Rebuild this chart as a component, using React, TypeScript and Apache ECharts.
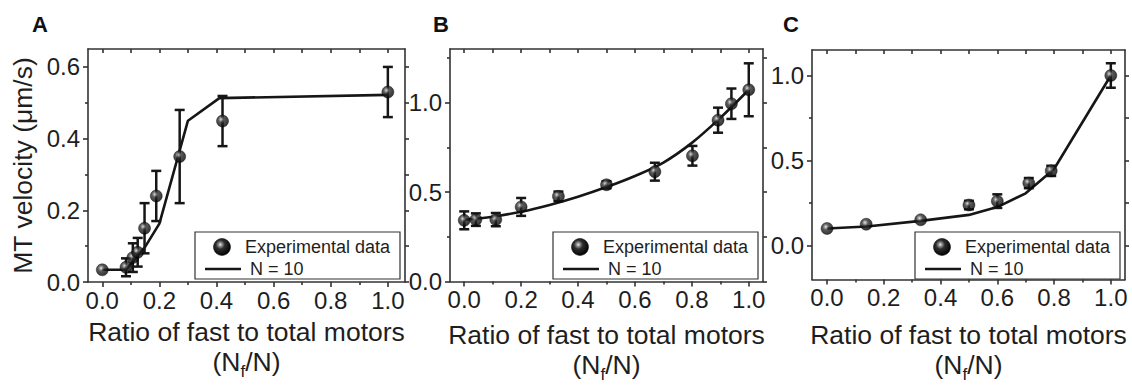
import React, { useEffect, useRef } from "react";
import * as echarts from "echarts";

// ---------- data ----------
const xMajor = [0, 0.2, 0.4, 0.6, 0.8, 1.0];
const xMinor = [0.1, 0.3, 0.5, 0.7, 0.9];

// Panel A
const aX = [0, 0.083, 0.107, 0.124, 0.148, 0.189, 0.271, 0.421, 1.0];
const aY = [0.034, 0.041, 0.068, 0.083, 0.15, 0.24, 0.35, 0.449, 0.53];
const aErr = [0, 0.025, 0.04, 0.04, 0.07, 0.07, 0.13, 0.07, 0.07];
const aFitX = [0, 0.083, 0.15, 0.2, 0.3, 0.41, 1.0];
const aFitY = [0.034, 0.034, 0.098, 0.163, 0.45, 0.513, 0.522];
const aYMajor = [0, 0.2, 0.4, 0.6];
const aYMinor = [0.1, 0.3, 0.5];

// Panel B
const bX = [0, 0.041, 0.111, 0.2, 0.331, 0.5, 0.67, 0.802, 0.892, 0.939, 1.0];
const bY = [0.342, 0.346, 0.346, 0.417, 0.476, 0.541, 0.614, 0.703, 0.902, 0.994, 1.072];
const bErr = [0.05, 0.035, 0.037, 0.05, 0.027, 0.02, 0.05, 0.055, 0.07, 0.085, 0.148];
const bFitX = [0, 0.1, 0.2, 0.3, 0.4, 0.5, 0.6, 0.7, 0.8, 0.9, 1.0];
const bFitY = [0.345, 0.362, 0.39, 0.428, 0.474, 0.528, 0.59, 0.665, 0.775, 0.915, 1.072];
const bYMajor = [0, 0.5, 1.0];
const bYMinor = [0.25, 0.75, 1.25];

// Panel C
const cX = [0, 0.138, 0.33, 0.5, 0.6, 0.711, 0.79, 1.0];
const cY = [0.1, 0.125, 0.151, 0.238, 0.261, 0.367, 0.439, 1.0];
const cErr = [0, 0, 0, 0.025, 0.04, 0.03, 0.03, 0.072];
const cFitX = [0, 0.14, 0.33, 0.5, 0.6, 0.7, 0.8, 1.0];
const cFitY = [0.1, 0.112, 0.145, 0.18, 0.226, 0.307, 0.45, 1.0];
const cYMajor = [0, 0.5, 1.0];
const cYMinor = [0.25, 0.75];

const panelLetters = ["A", "B", "C"];
const legendLabels = ["Experimental data", "N = 10"];
const xTitle = "Ratio of fast to total motors";
const yTitle = "MT velocity (\u03bcm/s)";

// ---------- style ----------
const FONT = "'Liberation Sans', Arial, Helvetica, sans-serif";
const INK = "#161616";
const FRAME = "#333";
const TXT = "#1e1e1e";

const sphere = () => ({
  type: "radial",
  x: 0.4,
  y: 0.36,
  r: 0.62,
  colorStops: [
    { offset: 0, color: "#eeeeee" },
    { offset: 0.15, color: "#9a9a9a" },
    { offset: 0.42, color: "#2e2e2e" },
    { offset: 1, color: "#050505" },
  ],
});

type Panel = {
  left: number; top: number; width: number; height: number;
  xMin: number; xMax: number; yMin: number; yMax: number;
  yMajor: number[]; yMinor: number[];
  nameGap: number; yName?: string;
  px: number[]; py: number[]; pe: number[]; fx: number[]; fy: number[];
  smooth: boolean;
};

const panels: Panel[] = [
  { left: 88, top: 49, width: 317, height: 233, xMin: -0.05, xMax: 1.06, yMin: 0, yMax: 0.65,
    yMajor: aYMajor, yMinor: aYMinor, nameGap: 34, yName: yTitle,
    px: aX, py: aY, pe: aErr, fx: aFitX, fy: aFitY, smooth: false },
  { left: 450, top: 49, width: 313, height: 233, xMin: -0.05, xMax: 1.05, yMin: 0, yMax: 1.3,
    yMajor: bYMajor, yMinor: bYMinor, nameGap: 38,
    px: bX, py: bY, pe: bErr, fx: bFitX, fy: bFitY, smooth: true },
  { left: 812, top: 50, width: 313, height: 233, xMin: -0.053, xMax: 1.05, yMin: -0.2, yMax: 1.15,
    yMajor: cYMajor, yMinor: cYMinor, nameGap: 40,
    px: cX, py: cY, pe: cErr, fx: cFitX, fy: cFitY, smooth: false },
];

const lineStyle = { color: FRAME, width: 1.6 };

function buildOption() {
  const grid: any[] = [];
  const xAxis: any[] = [];
  const yAxis: any[] = [];
  const series: any[] = [];
  const graphic: any[] = [];

  panels.forEach((p, gi) => {
    grid.push({ left: p.left, top: p.top, width: p.width, height: p.height, containLabel: false });
    const xBase = { gridIndex: gi, type: "value", min: p.xMin, max: p.xMax, splitLine: { show: false } };
    const yBase = { gridIndex: gi, type: "value", min: p.yMin, max: p.yMax, splitLine: { show: false } };
    xAxis.push({
      ...xBase, position: "bottom",
      axisLine: { show: true, onZero: false, lineStyle },
      axisTick: { show: true, inside: false, length: 5, customValues: xMajor, lineStyle },
      axisLabel: { show: true, customValues: xMajor, formatter: (v: number) => v.toFixed(1), margin: 6,
        fontSize: 24, color: TXT, fontFamily: FONT },
      name: xTitle + "\n{n|(N}{s|f}{n|/N)}", nameLocation: "middle", nameGap: p.nameGap,
      nameTextStyle: { fontSize: 26.5, color: TXT, fontFamily: FONT, lineHeight: 30,
        rich: {
          n: { fontSize: 26.5, color: TXT, fontFamily: FONT, lineHeight: 30 },
          s: { fontSize: 17, color: TXT, fontFamily: FONT, padding: [20, 0, 0, 0] },
        } },
    });
    xAxis.push({
      ...xBase, position: "bottom",
      axisLine: { show: false, onZero: false },
      axisTick: { show: true, inside: false, length: 3, customValues: xMinor, lineStyle },
      axisLabel: { show: false },
    });
    xAxis.push({
      ...xBase, position: "top",
      axisLine: { show: true, onZero: false, lineStyle },
      axisTick: { show: true, inside: true, length: 4, customValues: [...xMajor, ...xMinor], lineStyle },
      axisLabel: { show: false },
    });
    yAxis.push({
      ...yBase, position: "left",
      axisLine: { show: true, onZero: false, lineStyle },
      axisTick: { show: true, inside: false, length: 5, customValues: p.yMajor, lineStyle },
      axisLabel: { show: true, customValues: p.yMajor, formatter: (v: number) => v.toFixed(1), margin: 8,
        fontSize: 24, color: TXT, fontFamily: FONT },
      ...(p.yName ? { name: p.yName, nameLocation: "middle", nameGap: 52,
        nameTextStyle: { fontSize: 26.5, color: TXT, fontFamily: FONT } } : {}),
    });
    yAxis.push({
      ...yBase, position: "left",
      axisLine: { show: false, onZero: false },
      axisTick: { show: true, inside: false, length: 3, customValues: p.yMinor, lineStyle },
      axisLabel: { show: false },
    });
    yAxis.push({
      ...yBase, position: "right",
      axisLine: { show: true, onZero: false, lineStyle },
      axisTick: { show: true, inside: false, length: 4, customValues: [...p.yMajor, ...p.yMinor], lineStyle },
      axisLabel: { show: false },
    });

    const xi = gi * 3;
    const yi = gi * 3;
    series.push({
      type: "line", xAxisIndex: xi, yAxisIndex: yi, smooth: p.smooth ? 0.35 : false,
      showSymbol: false, symbol: "none",
      lineStyle: { color: INK, width: 2.6 },
      data: p.fx.map((x, i) => [x, p.fy[i]]),
      z: 2,
    });
    series.push({
      type: "custom", xAxisIndex: xi, yAxisIndex: yi,
      data: p.px.map((x, i) => [x, p.py[i], p.pe[i]]),
      encode: { x: 0, y: 1 },
      renderItem: (params: any, api: any) => {
        const x = api.value(0), y = api.value(1), e = api.value(2);
        if (!e) return { type: "group", children: [] };
        const t = api.coord([x, y + e]);
        const b = api.coord([x, y - e]);
        const hw = 5;
        const style = { stroke: INK, lineWidth: 2.5, fill: null };
        return {
          type: "group",
          children: [
            { type: "line", shape: { x1: t[0], y1: t[1], x2: b[0], y2: b[1] }, style },
            { type: "line", shape: { x1: t[0] - hw, y1: t[1], x2: t[0] + hw, y2: t[1] }, style },
            { type: "line", shape: { x1: b[0] - hw, y1: b[1], x2: b[0] + hw, y2: b[1] }, style },
          ],
        };
      },
      z: 3,
    });
    series.push({
      type: "scatter", xAxisIndex: xi, yAxisIndex: yi, symbol: "circle", symbolSize: 12,
      itemStyle: { color: sphere(), borderColor: "#000", borderWidth: 0.5 },
      data: p.px.map((x, i) => [x, p.py[i]]),
      z: 4,
    });

    graphic.push({
      type: "text", left: [32, 433, 783][gi], top: 13, z: 10,
      style: { text: panelLetters[gi], font: `bold 22px ${FONT}`, fill: "#111" },
    });

    const L = p.left + p.width - 5 - 205;
    const T = 232;
    graphic.push({
      type: "group", z: 10,
      children: [
        { type: "rect", shape: { x: L, y: T, width: 205, height: 47 },
          style: { fill: "#fff", stroke: "#333", lineWidth: 1.2 } },
        { type: "circle", shape: { cx: L + 27, cy: T + 15, r: 8.5 },
          style: { fill: sphere(), stroke: "#000", lineWidth: 0.5 } },
        { type: "line", shape: { x1: L + 10, y1: T + 37, x2: L + 46, y2: T + 37 },
          style: { stroke: INK, lineWidth: 2.6 } },
        { type: "text", x: L + 50, y: T + 15,
          style: { text: legendLabels[0], font: `18px ${FONT}`, fill: TXT, verticalAlign: "middle", align: "left" } },
        { type: "text", x: L + 55, y: T + 37,
          style: { text: legendLabels[1], font: `18px ${FONT}`, fill: TXT, verticalAlign: "middle", align: "left" } },
      ],
    });
  });

  return { animation: false, backgroundColor: "#fff", grid, xAxis, yAxis, series, graphic };
}

export default function App() {
  const ref = useRef<HTMLDivElement>(null);
  useEffect(() => {
    if (!ref.current) return;
    const chart = echarts.init(ref.current, undefined, { renderer: "svg" });
    chart.setOption(buildOption() as any);
    return () => chart.dispose();
  }, []);
  return (
    <div
      ref={ref}
      style={{ position: "fixed", left: 0, top: 0, width: 1132, height: 388, background: "#fff" }}
    />
  );
}
